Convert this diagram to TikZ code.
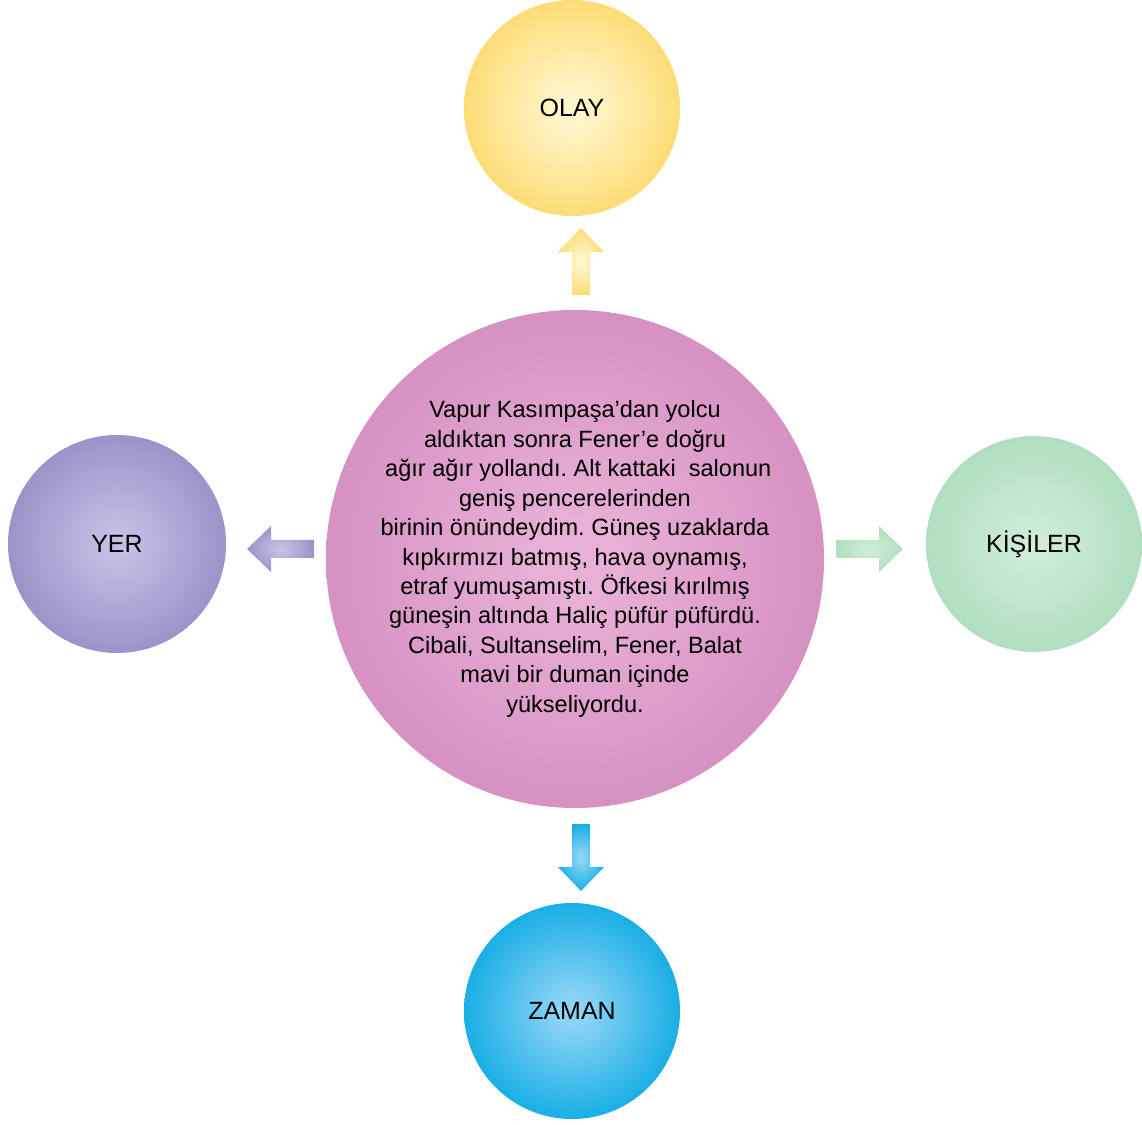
\documentclass[tikz,border=0pt]{standalone}
\usepackage{fontspec}
\setmainfont{Liberation Sans}
\usepackage{xcolor}
\usetikzlibrary{calc, positioning}
\definecolor{pinkin}{RGB}{232,176,214}
\definecolor{pinkout}{RGB}{206,132,186}
\definecolor{olayin}{RGB}{255,246,205}
\definecolor{olayout}{RGB}{254,208,76}
\definecolor{yerin}{RGB}{196,190,228}
\definecolor{yerout}{RGB}{135,125,188}
\definecolor{kisiin}{RGB}{206,236,216}
\definecolor{kisiout}{RGB}{162,215,180}
\definecolor{zamanin}{RGB}{140,212,245}
\definecolor{zamanout}{RGB}{0,166,226}
\pgfdeclareradialshading{pinkglow}{\pgfpointorigin}{color(0bp)=(pinkin); color(4bp)=(pinkin); color(34bp)=(pinkout); color(50bp)=(pinkout)}
\pgfdeclareradialshading{olayglow}{\pgfpointorigin}{color(0bp)=(olayin); color(3bp)=(olayin); color(36bp)=(olayout); color(50bp)=(olayout)}
\pgfdeclareradialshading{yerglow}{\pgfpointorigin}{color(0bp)=(yerin); color(3bp)=(yerin); color(36bp)=(yerout); color(50bp)=(yerout)}
\pgfdeclareradialshading{kisiglow}{\pgfpointorigin}{color(0bp)=(kisiin); color(3bp)=(kisiin); color(36bp)=(kisiout); color(50bp)=(kisiout)}
\pgfdeclareradialshading{zamanglow}{\pgfpointorigin}{color(0bp)=(zamanin); color(3bp)=(zamanin); color(30bp)=(zamanout); color(50bp)=(zamanout)}

\newcommand{\blockarrow}[3]{%
  \begin{scope}[shift={(#1)}, rotate=#2]
    \shade[shading=#3] (0,-0.18) -- (0.86,-0.18) -- (0.86,-0.46) -- (1.34,0)
      -- (0.86,0.46) -- (0.86,0.18) -- (0,0.18) -- cycle;
  \end{scope}}

\begin{document}
\frenchspacing
\begin{tikzpicture}[
    ball/.style={circle, minimum size=4.32cm, inner sep=0pt, outer sep=0pt,
      font=\fontsize{14.2}{16}\selectfont},
    story/.style={circle, minimum size=9.96cm, inner sep=0pt, outer sep=0pt}]
  \useasboundingbox (0,0) rectangle (22.84,22.48);

  % Center text
  \node[story, shading=pinkglow] (main) at (11.50,11.30) {};
  \node[align=center, font=\fontsize{13.4}{16.75}\selectfont] (storytext) at (11.50,11.30) {%
    Vapur Kasımpaşa’dan yolcu\\
    aldıktan sonra Fener’e doğru\\
    \ ağır ağır yollandı. Alt kattaki\ \ salonun\\
    geniş pencerelerinden\\
    birinin önündeydim. Güneş uzaklarda\\
    kıpkırmızı batmış, hava oynamış,\\
    etraf yumuşamıştı. Öfkesi kırılmış\\
    güneşin altında Haliç püfür püfürdü.\\
    Cibali, Sultanselim, Fener, Balat\\
    mavi bir duman içinde\\
    yükseliyordu.};

  % Outer circles
  \node[ball, shading=olayglow] (olay) at (11.44,20.32) {OLAY};
  \node[ball, shading=yerglow, minimum size=4.36cm] (yer) at (2.34,11.60) {YER};
  \node[ball, shading=kisiglow] (kisiler) at (20.68,11.60) {KİŞİLER};
  \node[ball, shading=zamanglow] (zaman) at (11.44,2.26) {ZAMAN};

  % Arrows
  \coordinate (upbase) at ($(main.north)+(0.12,0.30)$);
  \coordinate (downbase) at ($(main.south)+(0.12,-0.32)$);
  \coordinate (leftbase) at ($(main.west)+(-0.24,0.20)$);
  \coordinate (rightbase) at ($(main.east)+(0.24,0.20)$);
  \blockarrow{upbase}{90}{olayglow}
  \blockarrow{downbase}{-90}{zamanglow}
  \blockarrow{leftbase}{180}{yerglow}
  \blockarrow{rightbase}{0}{kisiglow}
\end{tikzpicture}
\end{document}
